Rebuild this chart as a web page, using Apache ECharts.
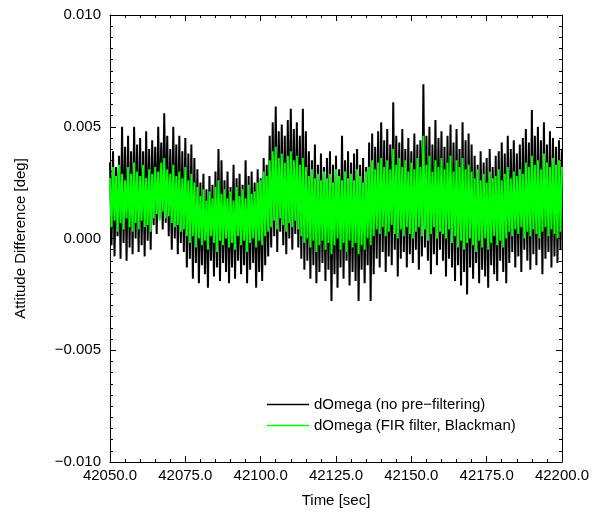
<!DOCTYPE html>
<html><head><meta charset="utf-8">
<script src="https://cdn.jsdelivr.net/npm/echarts@6/dist/echarts.min.js"></script>
<style>html,body{margin:0;padding:0;background:#fff}#c{width:599px;height:513px}</style>
</head><body><div id="c"></div>
<script>
// Time axis: one sample pair per second starting at t0 (sec)
var t0 = 42050;
// Black series (no pre-filtering): upper and lower excursion per second, in 1e-3 deg
var blackHigh = [
3.4,3.9,3.2,3.7,5.0,4.1,4.6,3.9,5.0,4.2,
4.5,3.9,4.8,4.0,4.4,4.1,5.0,4.3,5.6,4.6,
4.0,5.0,4.2,4.6,3.9,4.5,3.8,4.2,3.6,3.1,
2.5,2.9,2.2,2.8,2.4,3.0,4.0,3.5,2.6,3.0,
2.3,3.3,2.7,2.9,2.4,3.5,2.8,3.0,2.5,3.1,
2.7,3.6,3.3,4.6,5.2,5.9,4.8,5.1,4.6,5.3,
5.8,4.9,5.2,4.6,5.8,4.8,3.9,3.5,4.2,3.3,
3.8,3.2,3.6,3.9,3.3,3.7,3.1,4.6,3.5,3.9,
3.4,3.8,4.0,3.3,3.6,3.2,4.3,4.7,4.1,4.8,
5.2,4.4,4.9,4.2,6.1,4.6,4.3,4.9,4.0,4.5,
3.9,4.7,4.2,4.4,6.9,4.6,5.0,4.2,5.3,4.5,
4.8,4.1,4.6,5.1,4.3,4.9,4.0,5.2,4.4,4.7,
4.2,3.7,3.3,3.9,3.4,3.6,4.0,3.2,3.7,3.9,
4.3,3.8,4.6,4.0,4.4,3.8,4.2,4.5,4.9,4.3,
5.75,4.6,5.0,4.4,5.2,4.2,4.8,4.5,4.1,4.4,
4.0];
var blackLow = [
-0.3,-0.8,0.1,-0.9,-0.2,-1.0,-0.4,-0.7,0.0,-0.6,
-0.3,-0.8,-0.1,-0.5,0.6,0.2,0.9,0.4,0.7,0.1,
-0.5,0.0,-0.7,-0.2,-0.6,-1.3,-0.9,-1.8,-1.1,-2.0,
-1.2,-1.6,-2.2,-1.0,-1.7,-1.3,-1.9,-1.1,-1.5,-2.0,
-1.3,-1.8,-1.0,-1.6,-1.2,-2.0,-1.4,-1.1,-2.2,-1.5,
-1.9,-1.2,-0.8,-0.4,0.1,-0.6,0.3,-0.3,-0.7,0.0,
-0.5,0.2,-0.4,-0.9,-1.4,-1.0,-1.8,-1.2,-2.0,-1.5,
-1.1,-1.9,-1.4,-2.8,-1.6,-2.2,-1.3,-1.8,-1.0,-2.1,
-1.5,-1.9,-2.8,-1.4,-2.0,-1.2,-2.8,-1.6,-0.9,-1.3,
-0.6,-1.5,-0.8,-1.2,-0.5,-1.7,-0.9,-0.6,-1.3,-0.7,
-1.1,-0.5,-1.4,-0.8,-0.4,-1.0,-1.6,-0.7,-1.2,-0.5,
-1.0,-1.7,-0.9,-1.3,-1.9,-1.2,-2.1,-1.5,-2.5,-1.3,
-1.8,-1.1,-2.0,-1.4,-1.7,-2.2,-1.2,-1.6,-1.9,-1.0,
-1.5,-2.0,-1.1,-0.6,-1.3,-0.8,-1.5,-0.5,-1.0,-1.4,
-0.7,-1.2,-0.5,-1.6,-0.9,-0.6,-1.3,-0.8,-1.1,-0.5,
-0.9];
// Green series (FIR filter, Blackman): upper and lower excursion per second, in 1e-3 deg
var greenHigh = [
2.7,3.2,2.8,3.3,2.9,2.6,3.2,2.9,3.4,3.0,
2.8,3.3,2.7,3.1,2.9,3.2,3.0,3.4,3.6,3.1,
2.9,3.3,2.8,3.0,2.7,3.2,2.6,2.9,2.5,2.3,
1.9,2.2,1.7,2.1,1.8,2.3,2.6,2.0,2.2,1.8,
2.1,1.7,2.3,1.9,2.2,1.8,2.4,2.0,2.1,2.5,
2.6,3.0,2.8,3.5,3.9,4.1,3.6,3.8,3.4,3.7,
3.9,3.5,3.7,3.3,3.6,3.2,2.8,3.1,2.7,2.9,
2.6,3.0,2.7,2.9,2.5,3.1,2.8,2.6,3.0,2.7,
2.9,2.6,3.1,2.8,2.5,3.0,3.2,3.5,3.1,3.4,
3.6,3.2,3.5,3.1,4.0,3.3,3.6,3.2,3.5,3.0,
3.4,3.1,3.6,3.2,4.6,3.3,3.7,3.0,3.5,3.2,
3.6,3.1,3.4,3.7,3.0,3.5,3.2,3.6,3.1,3.3,
3.0,2.7,3.1,2.6,2.9,2.5,3.0,2.7,2.8,3.1,
2.6,2.9,3.2,2.7,3.0,2.8,3.1,2.9,3.4,3.2,
3.7,3.3,3.5,3.1,3.8,3.4,3.2,3.6,3.3,3.5,
3.2];
var greenLow = [
0.5,0.8,0.3,0.7,0.4,0.9,0.5,0.3,0.7,0.4,
0.8,0.5,0.6,0.3,0.9,1.1,0.8,1.2,0.9,1.0,
0.7,0.5,0.6,0.3,0.4,0.1,-0.2,0.1,-0.4,0.0,
-0.3,-0.1,-0.5,0.1,-0.2,-0.6,-0.1,-0.3,0.0,-0.4,
-0.2,-0.5,0.1,-0.3,-0.1,-0.6,-0.2,0.0,-0.4,-0.1,
-0.3,0.1,0.3,0.5,0.8,0.4,0.9,0.6,0.3,0.7,
0.5,0.8,0.4,0.1,-0.2,0.0,-0.4,-0.1,-0.6,-0.3,
-0.1,-0.5,-0.2,-0.7,-0.3,0.0,-0.5,-0.2,-0.6,-0.1,
-0.4,-0.2,-0.7,-0.3,-0.5,0.0,-0.3,0.1,0.4,0.2,
0.5,0.1,0.3,0.6,0.2,0.0,0.4,0.1,0.5,0.2,
0.0,0.3,0.5,0.1,0.4,-0.1,0.2,0.5,0.0,0.3,
0.2,0.0,0.4,-0.2,0.1,-0.4,-0.1,-0.5,-0.2,0.0,
-0.3,-0.6,-0.1,-0.4,0.0,-0.5,-0.2,0.1,-0.3,-0.1,
-0.4,0.0,0.3,0.1,0.4,0.2,0.5,0.0,0.3,0.1,
0.4,0.2,0.0,0.3,0.5,0.1,0.4,0.2,0.0,0.3,
0.2];
var seriesNames = ['dOmega (no pre\u2212filtering)', 'dOmega (FIR filter, Blackman)'];
var xTitle = 'Time [sec]';
var yTitle = 'Attitude Difference [deg]';

function build(hi, lo) {
  var d = [];
  for (var i = 0; i < hi.length; i++) {
    d.push([t0 + i, hi[i] * 1e-3]);
    if (i < hi.length - 1) d.push([t0 + i + 0.5, lo[i] * 1e-3]);
  }
  return d;
}
function fmtY(v) {
  var s = Math.abs(v) < 1e-12 ? '0.000' : v.toFixed(3);
  return s.replace('-', '\u2212');
}
var font = 'Liberation Sans, Arial, Helvetica, sans-serif';
var common = {
  axisLine: {show: true, onZero: false, lineStyle: {color: '#000', width: 1}},
  axisTick: {show: true, inside: true, length: 6, lineStyle: {color: '#000'}},
  minorTick: {show: true, length: 3, lineStyle: {color: '#000'}},
  splitLine: {show: false}
};
function ax(extra) { return Object.assign({}, JSON.parse(JSON.stringify(common)), extra); }

var chart = echarts.init(document.getElementById('c'), null, {renderer: 'canvas'});
chart.setOption({
  animation: false,
  backgroundColor: '#fff',
  grid: {left: 110, right: 37, top: 15, bottom: 47},
  xAxis: [
    ax({type: 'value', position: 'bottom', min: 42050, max: 42200, interval: 25,
      minorTick: {show: true, splitNumber: 5, length: 3, lineStyle: {color: '#000'}},
      axisLabel: {color: '#000', fontSize: 15, fontFamily: font, margin: 6, formatter: function (v) { return v.toFixed(1); }},
      name: xTitle, nameLocation: 'middle', nameGap: 31,
      nameTextStyle: {color: '#000', fontSize: 15, fontFamily: font}}),
    ax({type: 'value', position: 'top', min: 42050, max: 42200, interval: 25,
      minorTick: {show: true, splitNumber: 5, length: 3, lineStyle: {color: '#000'}},
      axisLabel: {show: false}})
  ],
  yAxis: [
    ax({type: 'value', position: 'left', min: -0.01, max: 0.01, interval: 0.005,
      minorTick: {show: true, splitNumber: 10, length: 3, lineStyle: {color: '#000'}},
      axisLabel: {color: '#000', fontSize: 15, fontFamily: font, margin: 9, formatter: fmtY},
      name: yTitle, nameLocation: 'middle', nameGap: 82, nameRotate: 90,
      nameTextStyle: {color: '#000', fontSize: 15, fontFamily: font}}),
    ax({type: 'value', position: 'right', min: -0.01, max: 0.01, interval: 0.005,
      minorTick: {show: true, splitNumber: 10, length: 3, lineStyle: {color: '#000'}},
      axisLabel: {show: false}})
  ],
  legend: {
    orient: 'vertical', left: 262, top: 391, itemWidth: 42, itemHeight: 1.6, itemGap: 4,
    icon: 'rect',
    textStyle: {color: '#000', fontSize: 15, fontFamily: font, lineHeight: 17},
    data: seriesNames
  },
  series: [
    {name: seriesNames[0], type: 'line', data: build(blackHigh, blackLow), symbol: 'none',
      color: '#000', lineStyle: {color: '#000', width: 2}, clip: true},
    {name: seriesNames[1], type: 'line', data: build(greenHigh, greenLow), symbol: 'none',
      color: '#00ff00', lineStyle: {color: '#00ff00', width: 2}, clip: true}
  ]
});
</script></body></html>
